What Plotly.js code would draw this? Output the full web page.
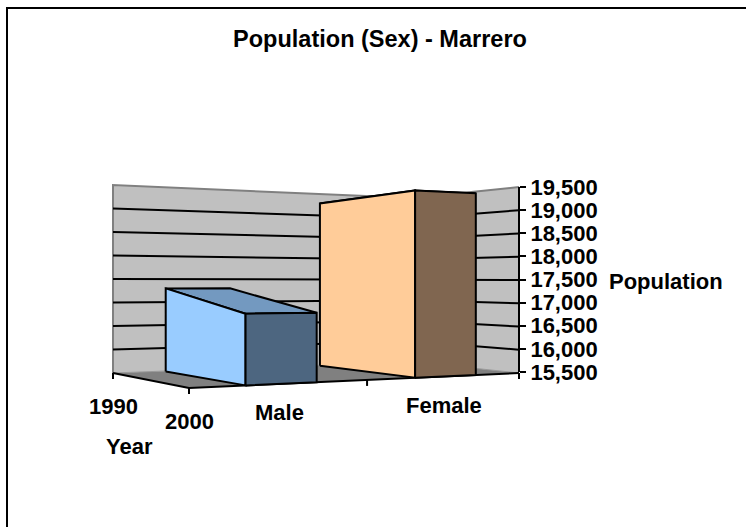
<!DOCTYPE html>
<html><head><meta charset="utf-8">
<script src="https://cdn.plot.ly/plotly-3.0.1.min.js"></script>
<style>html,body{margin:0;padding:0;background:#fff}#c{width:746px;height:527px}</style>
</head><body><div id="c"></div>
<script>
// ---- data ----
const categories = ["Male", "Female"];
const years = ["1990", "2000"];
const values1990 = [17300, 19270];
const values2000 = [16850, 19320];
const valueTicks = [15500, 16000, 16500, 17000, 17500, 18000, 18500, 19000, 19500];
const colorsSide = ["#99ccff", "#ffcc99"];
const colorsFront = ["#4d6680", "#806650"];
const colorsTop = ["#7399c0", "#bf9973"];

// ---- oblique perspective of the chart box ----
const vMin = valueTicks[0], vMax = valueTicks[valueTicks.length - 1];
const F = [189, 388], R = [519, 373], A = [113, 373];
const H0 = 218, dR = 1.172, dA = 1.16;
function project(u, v, val) {
  const den = 1 + (dR - 1) * u + (dA - 1) * v;
  const x = (F[0] + (R[0] * dR - F[0]) * u + (A[0] * dA - F[0]) * v) / den;
  const y = (F[1] + (R[1] * dR - F[1]) * u + (A[1] * dA - F[1]) * v) / den;
  return [x, y - ((val - vMin) / (vMax - vMin)) * H0 / den];
}
function poly(points, fill, lineColor, width) {
  const pts = points.map(p => project(p[0], p[1], p[2]));
  const tr = {
    type: "scatter", mode: "lines", x: pts.map(p => p[0]), y: pts.map(p => p[1]),
    line: { color: lineColor, width: width }, hoverinfo: "skip", showlegend: false
  };
  if (fill) {
    tr.x.push(tr.x[0]); tr.y.push(tr.y[0]);
    tr.fill = "toself"; tr.fillcolor = fill;
  }
  return tr;
}
const traces = [];
// walls and floor
traces.push(poly([[0,1,vMin],[1,1,vMin],[1,1,vMax],[0,1,vMax]], "#c0c0c0", "rgba(0,0,0,0)", 0));
traces.push(poly([[1,1,vMin],[1,0,vMin],[1,0,vMax],[1,1,vMax]], "#c0c0c0", "rgba(0,0,0,0)", 0));
traces.push(poly([[0,1,vMin],[0,0,vMin],[1,0,vMin],[1,1,vMin]], "#808080", "rgba(0,0,0,0)", 0));
// wall outline
traces.push(poly([[0,1,vMin],[0,1,vMax],[1,1,vMax],[1,0,vMax]], null, "#808080", 2));
traces.push(poly([[0,1,vMin],[1,1,vMin],[1,0,vMin]], null, "#999999", 1));
// gridlines
valueTicks.slice(1, -1).forEach(t => {
  traces.push(poly([[0,1,t],[1,1,t],[1,0,t]], null, "#000000", 2));
});
// floor edges
traces.push(poly([[0,1,vMin],[0,0,vMin],[1,0,vMin]], null, "#000000", 2));
// ticks under the floor
const tickLen = 6;
function tickShape(u, v) {
  const p = project(u, v, vMin);
  return { type: "line", xref: "x", yref: "y", x0: p[0], x1: p[0], y0: p[1], y1: p[1] + tickLen,
           line: { color: "#000", width: 2 } };
}
const shapes = [];
years.forEach((y, i) => shapes.push(tickShape(0, 1 - i)));
[0, 0.5, 1].forEach(u => shapes.push(tickShape(u, 0)));
// page frame (top and left only)
shapes.push({ type: "line", xref: "paper", yref: "paper", x0: 7 / 746, x1: 1, y0: 1 - 8 / 527, y1: 1 - 8 / 527, line: { color: "#000", width: 2 } });
shapes.push({ type: "line", xref: "paper", yref: "paper", x0: 7 / 746, x1: 7 / 746, y0: 0, y1: 1 - 7 / 527, line: { color: "#000", width: 2 } });

// ribbons: each category runs from its 1990 value (back) to its 2000 value (front)
const halfWidth = 0.1, backV = 0.97, frontV = 0;
categories.forEach((c, i) => {
  const uc = (i + 0.5) / categories.length, u0 = uc - halfWidth, u1 = uc + halfWidth;
  const b = values1990[i], f = values2000[i];
  traces.push(poly([[u0,backV,b],[u1,backV,b],[u1,frontV,f],[u0,frontV,f]], colorsTop[i], "#000", 2));
  traces.push(poly([[u0,backV,vMin],[u0,frontV,vMin],[u0,frontV,f],[u0,backV,b]], colorsSide[i], "#000", 2));
  traces.push(poly([[u0,frontV,vMin],[u1,frontV,vMin],[u1,frontV,f],[u0,frontV,f]], colorsFront[i], "#000", 2));
});
// invisible trace that puts the value axis in use
traces.push({ type: "scatter", mode: "none", x: valueTicks.map(() => R[0]), y: valueTicks, yaxis: "y2", hoverinfo: "skip", showlegend: false });

const font = { family: "Liberation Sans, Arial, sans-serif", size: 22, color: "#000", weight: "bold" };
const annotations = [];
function label(text, x, y) {
  annotations.push({ text, x, y, xref: "x", yref: "y", showarrow: false, xanchor: "center", yanchor: "middle", font });
}
categories.forEach((c, i) => {
  const p = project((i + 0.5) / categories.length, 0, vMin);
  label(c, p[0] - 2, p[1] + 29);
});
years.forEach((y, i) => {
  const p = project(0, 1 - i, vMin);
  label(y, p[0], p[1] + 33);
});
label("Year", 129, 446);
label("Population", 666, 281);

const yTop = 187, yBottom = 372;
Plotly.newPlot("c", traces, {
  width: 746, height: 527,
  margin: { l: 0, r: 0, t: 0, b: 0, pad: 0 },
  paper_bgcolor: "#fff", plot_bgcolor: "rgba(0,0,0,0)",
  showlegend: false,
  title: { text: "Population (Sex) - Marrero", x: 380 / 746, xanchor: "center", y: 1 - 39 / 527, yanchor: "middle",
           font: { family: font.family, size: 23.5, color: "#000", weight: "bold" } },
  xaxis: { range: [0, 746], visible: false, fixedrange: true },
  yaxis: { range: [527, 0], visible: false, fixedrange: true },
  yaxis2: {
    anchor: "free", position: R[0] / 746, side: "right",
    domain: [1 - yBottom / 527, 1 - yTop / 527], range: [vMin, vMax],
    tickmode: "array", tickvals: valueTicks, ticktext: valueTicks.map(v => v.toLocaleString("en-US")),
    ticks: "outside", ticklen: 6, tickwidth: 2, tickcolor: "#000",
    showline: true, linecolor: "#000", linewidth: 2, showgrid: false, zeroline: false,
    tickfont: font, fixedrange: true
  },
  shapes, annotations
}, { displayModeBar: false, staticPlot: true });
</script></body></html>
